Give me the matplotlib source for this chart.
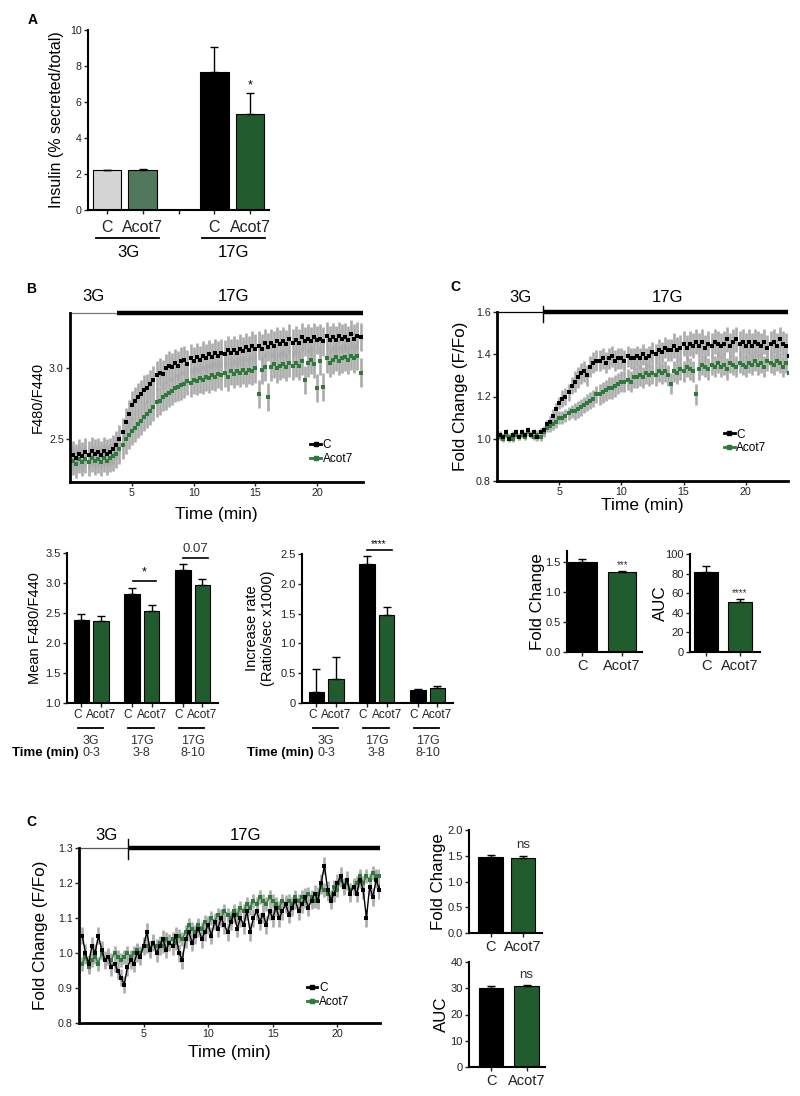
import numpy as np
import matplotlib
matplotlib.use("Agg")  # no display
import matplotlib.pyplot as plt
from matplotlib.lines import Line2D

plt.rcParams['font.family'] = ['Liberation Sans', 'DejaVu Sans']

GREEN = "#215c2f"
LIGHT_GREEN = "#52785b"
TRACE_GREEN = "#2d7a3a"
ERR_GRAY = "#ababab"

# ---- Panel A: insulin secretion ----
A_TICKLABELS = ["C", "Acot7", "", "C", "Acot7"]
A_GROUPS = ["3G", "17G"]
A_VALUES = [2.2, 2.2, 7.65, 5.35]
A_ERR = [0.03, 0.1, 1.4, 1.15]

# ---- Panel B bars ----
BAR_GROUPS = ["3G", "17G", "17G"]
BAR_TIMES = ["0-3", "3-8", "8-10"]
B_MEAN_C = [2.39, 2.81, 3.22]
B_MEAN_C_ERR = [0.10, 0.10, 0.10]
B_MEAN_A = [2.37, 2.54, 2.97]
B_MEAN_A_ERR = [0.08, 0.09, 0.09]
B_RATE_C = [0.18, 2.33, 0.22]
B_RATE_C_ERR = [0.39, 0.14, 0.02]
B_RATE_A = [0.40, 1.48, 0.26]
B_RATE_A_ERR = [0.38, 0.13, 0.02]

# ---- Panel C bars (top) ----
C_FOLD = [1.50, 1.33]
C_FOLD_ERR = [0.04, 0.02]
C_AUC = [82.0, 51.0]
C_AUC_ERR = [6.0, 3.0]

# ---- Panel C bars (bottom) ----
D_FOLD = [1.48, 1.46]
D_FOLD_ERR = [0.04, 0.03]
D_AUC = [30.2, 30.8]
D_AUC_ERR = [0.5, 0.5]

# ---- traces, sampled every 0.25 min ----
TIME = np.arange(0.25, 23.75, 0.25)

B_TRACE_C = [
    2.39, 2.37, 2.40, 2.38, 2.41, 2.39, 2.42, 2.40, 2.41, 2.39, 2.42, 2.40,
    2.41, 2.43, 2.46, 2.50, 2.55, 2.62, 2.68, 2.74, 2.77, 2.80, 2.82, 2.85,
    2.86, 2.89, 2.92, 2.95, 2.97, 2.96, 3.00, 3.02, 3.01, 3.04, 3.02, 3.05,
    3.06, 3.03, 3.07, 3.05, 3.08, 3.06, 3.09, 3.07, 3.10, 3.08, 3.11, 3.09,
    3.11, 3.10, 3.13, 3.11, 3.13, 3.11, 3.14, 3.12, 3.15, 3.13, 3.16, 3.14,
    3.16, 3.14, 3.18, 3.15, 3.18, 3.16, 3.19, 3.17, 3.19, 3.17, 3.21, 3.18,
    3.20, 3.18, 3.22, 3.19, 3.21, 3.19, 3.22, 3.20, 3.21, 3.19, 3.23, 3.20,
    3.22, 3.20, 3.23, 3.21, 3.22, 3.20, 3.24, 3.21, 3.23, 3.22]
B_TRACE_A = [
    2.35, 2.33, 2.36, 2.34, 2.36, 2.34, 2.37, 2.35, 2.36, 2.34, 2.37, 2.35,
    2.37, 2.38, 2.40, 2.43, 2.46, 2.50, 2.53, 2.56, 2.58, 2.61, 2.63, 2.66,
    2.68, 2.70, 2.73, 2.76, 2.77, 2.80, 2.81, 2.83, 2.84, 2.86, 2.87, 2.88,
    2.89, 2.91, 2.90, 2.92, 2.91, 2.93, 2.92, 2.94, 2.93, 2.95, 2.94, 2.96,
    2.95, 2.97, 2.94, 2.98, 2.96, 2.98, 2.97, 2.99, 2.97, 2.99, 2.98, 3.00,
    2.82, 2.99, 3.01, 2.80, 3.01, 3.03, 3.00, 3.02, 3.03, 3.01, 3.04, 3.02,
    3.04, 3.02, 3.05, 2.92, 3.04, 3.06, 3.03, 2.86, 3.05, 2.87, 3.07, 3.04,
    3.06, 3.08, 3.05, 3.07, 3.08, 3.06, 3.09, 3.07, 3.09, 2.97]
# SEM per minute
B_TRACE_C_SEM = [0.10] * 24
B_TRACE_A_SEM = [0.10] * 24

C_TRACE_C = [
    1.02, 1.01, 1.03, 1.00, 1.02, 1.03, 1.01, 1.03, 1.02, 1.04, 1.02, 1.03,
    1.01, 1.03, 1.04, 1.07, 1.08, 1.11, 1.14, 1.17, 1.19, 1.20, 1.22, 1.25,
    1.27, 1.29, 1.31, 1.32, 1.30, 1.34, 1.36, 1.37, 1.37, 1.38, 1.36, 1.38,
    1.39, 1.37, 1.38, 1.38, 1.37, 1.39, 1.38, 1.38, 1.39, 1.38, 1.40, 1.38,
    1.39, 1.41, 1.40, 1.42, 1.41, 1.43, 1.42, 1.42, 1.44, 1.42, 1.43, 1.45,
    1.43, 1.45, 1.44, 1.46, 1.44, 1.46, 1.43, 1.45, 1.44, 1.46, 1.45, 1.44,
    1.45, 1.47, 1.44, 1.46, 1.47, 1.45, 1.46, 1.44, 1.46, 1.44, 1.46, 1.45,
    1.44, 1.46, 1.43, 1.45, 1.46, 1.44, 1.47, 1.45, 1.44, 1.39]
C_TRACE_A = [
    1.01, 1.00, 1.02, 1.01, 1.00, 1.02, 1.01, 1.02, 1.01, 1.03, 1.02, 1.01,
    1.02, 1.01, 1.03, 1.05, 1.06, 1.07, 1.08, 1.10, 1.10, 1.11, 1.12, 1.13,
    1.13, 1.14, 1.15, 1.16, 1.17, 1.18, 1.19, 1.21, 1.21, 1.22, 1.23, 1.24,
    1.24, 1.25, 1.26, 1.27, 1.27, 1.28, 1.27, 1.29, 1.29, 1.30, 1.29, 1.31,
    1.30, 1.31, 1.30, 1.32, 1.31, 1.32, 1.30, 1.26, 1.32, 1.31, 1.33, 1.32,
    1.34, 1.33, 1.32, 1.21, 1.33, 1.35, 1.34, 1.33, 1.35, 1.34, 1.36, 1.34,
    1.35, 1.33, 1.36, 1.35, 1.34, 1.36, 1.35, 1.34, 1.36, 1.35, 1.37, 1.35,
    1.36, 1.34, 1.37, 1.36, 1.35, 1.37, 1.36, 1.34, 1.36, 1.31]
C_TRACE_C_SEM = [0.015, 0.015, 0.015, 0.02, 0.03, 0.04, 0.05, 0.05, 0.05, 0.05,
                 0.05, 0.05, 0.05, 0.05, 0.06, 0.06, 0.06, 0.06, 0.06, 0.06,
                 0.06, 0.06, 0.06, 0.06]
C_TRACE_A_SEM = [0.015, 0.015, 0.015, 0.02, 0.03, 0.03, 0.04, 0.04, 0.05, 0.05,
                 0.05, 0.05, 0.05, 0.05, 0.05, 0.05, 0.05, 0.05, 0.05, 0.05,
                 0.05, 0.05, 0.05, 0.05]

D_TRACE_C = [
    1.05, 1.00, 0.97, 1.02, 1.00, 1.05, 1.01, 0.98, 0.99, 0.96, 0.97, 0.95,
    0.93, 0.91, 0.96, 0.98, 0.97, 1.00, 0.99, 1.02, 1.06, 1.01, 1.03, 1.00,
    1.02, 1.04, 1.01, 1.03, 1.02, 1.05, 1.00, 0.98, 1.04, 1.06, 1.03, 1.05,
    1.07, 1.04, 1.06, 1.08, 1.05, 1.09, 1.07, 1.10, 1.08, 1.06, 1.09, 1.11,
    1.07, 1.10, 1.08, 1.12, 1.06, 1.10, 1.12, 1.09, 1.11, 1.08, 1.12, 1.10,
    1.13, 1.10, 1.12, 1.14, 1.11, 1.13, 1.15, 1.12, 1.14, 1.16, 1.13, 1.15,
    1.17, 1.15, 1.20, 1.25, 1.18, 1.15, 1.17, 1.20, 1.22, 1.19, 1.21, 1.17,
    1.19, 1.17, 1.21, 1.18, 1.10, 1.19, 1.16, 1.21, 1.18, 1.23]
D_TRACE_A = [
    0.97, 0.99, 0.96, 0.98, 0.99, 0.97, 1.00, 0.98, 0.99, 0.98, 1.00, 0.99,
    0.98, 0.99, 1.00, 0.99, 1.00, 1.01, 1.00, 1.02, 1.02, 1.01, 1.03, 1.02,
    1.03, 1.02, 1.04, 1.03, 1.04, 1.03, 1.05, 1.04, 1.06, 1.08, 1.07, 1.06,
    1.08, 1.07, 1.09, 1.08, 1.10, 1.09, 1.11, 1.10, 1.12, 1.11, 1.10, 1.12,
    1.11, 1.13, 1.12, 1.14, 1.13, 1.15, 1.14, 1.16, 1.15, 1.14, 1.16, 1.15,
    1.14, 1.13, 1.15, 1.14, 1.15, 1.14, 1.16, 1.15, 1.16, 1.15, 1.17, 1.16,
    1.15, 1.17, 1.19, 1.18, 1.17, 1.16, 1.19, 1.18, 1.21, 1.19, 1.20, 1.18,
    1.19, 1.20, 1.22, 1.20, 1.22, 1.21, 1.23, 1.22, 1.22, 1.21]
D_TRACE_C_SEM = [0.025] * 24
D_TRACE_A_SEM = [0.02] * 24

W, H = 800, 1096
fig = plt.figure(figsize=(W / 100, H / 100), dpi=100)


def add_axes(l, t, r, b):
    return fig.add_axes([l / W, 1 - b / H, (r - l) / W, (b - t) / H])


def style(ax, lw=1.5, labelsize=7.7):
    for s in ("top", "right"):
        ax.spines[s].set_visible(False)
    for s in ("left", "bottom"):
        ax.spines[s].set_linewidth(lw)
    ax.tick_params(direction="out", length=3, width=1, labelsize=labelsize, pad=1.5, colors="#222")


def draw_bars(ax, pos, vals, errs, colors, width):
    ax.bar(pos, vals, width=width, color=colors, edgecolor="black", linewidth=0.8, zorder=2)
    ax.errorbar(pos, vals, yerr=[np.zeros(len(vals)), errs], fmt="none", ecolor="black",
                elinewidth=1.0, capsize=3, capthick=1.0, zorder=3)


def trace(ax, c, a, c_sem, a_sem, ylim, yticks, fmt, switch, xmax, thin_color, vtick,
          lab_y, lab_x, line=False):
    n = len(TIME)
    ce = np.repeat(c_sem, 4)[:n]
    ae = np.repeat(a_sem, 4)[:n]
    ax.errorbar(TIME, a, yerr=ae, fmt="none", ecolor=ERR_GRAY, elinewidth=1.9, zorder=1)
    ax.errorbar(TIME, c, yerr=ce, fmt="none", ecolor=ERR_GRAY, elinewidth=1.9, zorder=1)
    ls = "-" if line else "none"
    ax.plot(TIME, a, marker="s", ls=ls, lw=1.0, color=TRACE_GREEN, ms=2.7, mew=0, zorder=2)
    ax.plot(TIME, c, marker="s", ls=ls, lw=1.0, color="black", ms=2.7, mew=0, zorder=3)
    ax.set_xlim(0, xmax)
    ax.set_ylim(*ylim)
    ax.set_yticks(yticks)
    ax.set_yticklabels([fmt.format(v) for v in yticks])
    ax.set_xticks([5, 10, 15, 20])
    style(ax, lw=2.0)
    tr = ax.get_xaxis_transform()
    ax.plot([0, switch], [1, 1], transform=tr, color=thin_color, lw=0.9, clip_on=False)
    ax.plot([switch, xmax], [1, 1], transform=tr, color="black", lw=3.2,
            solid_capstyle="butt", clip_on=False)
    if vtick:
        ax.plot([switch, switch], vtick, transform=tr, color="black", lw=1.0, clip_on=False)
    ax.text(lab_x[0], lab_y, "3G", transform=tr, ha="center", va="center", fontsize=12)
    ax.text(lab_x[1], lab_y, "17G", transform=tr, ha="center", va="center", fontsize=12)
    ax.set_xlabel("Time (min)", fontsize=12.5)


def legend(ax, anchor):
    handles = [Line2D([], [], color="black", lw=2, marker="s", ms=2.5),
               Line2D([], [], color=TRACE_GREEN, lw=2, marker="s", ms=2.5)]
    ax.legend(handles, ["C", "Acot7"], loc="upper left", bbox_to_anchor=anchor, frameon=False,
              fontsize=8.5, handlelength=0.9, handletextpad=0.15, labelspacing=0.15,
              borderpad=0, borderaxespad=0)


# ---------------- Panel A ----------------
ax = add_axes(88, 30, 269, 210)
draw_bars(ax, [0, 1, 3, 4], A_VALUES, A_ERR, ["#d4d4d4", LIGHT_GREEN, "black", GREEN], 0.8)
style(ax, lw=1.5)
ax.set_xlim(-0.53, 4.53)
ax.set_ylim(0, 10)
ax.set_yticks([0, 2, 4, 6, 8, 10])
ax.set_xticks(range(5))
ax.set_xticklabels(A_TICKLABELS, fontsize=11.5)
ax.tick_params(axis="x", pad=4)
ax.set_ylabel("Insulin (% secreted/total)", fontsize=11.5)
ax.yaxis.set_label_coords(-0.133, 0.5)
ax.text(4, 6.6, "*", ha="center", va="bottom", fontsize=9)
tr = ax.get_xaxis_transform()
for (x0, x1), xc, lab in zip([(-0.31, 1.45), (2.66, 4.42)], [0.6, 3.55], A_GROUPS):
    ax.plot([x0, x1], [-0.156, -0.156], transform=tr, color="black", lw=1.3, clip_on=False)
    ax.text(xc, -0.235, lab, transform=tr, ha="center", va="center", fontsize=12)

# ---------------- Panel B trace ----------------
ax = add_axes(70, 313, 363, 482)
trace(ax, B_TRACE_C, B_TRACE_A, B_TRACE_C_SEM, B_TRACE_A_SEM, (2.2, 3.39), [2.5, 3.0], "{:.1f}",
      3.8, 23.7, "#777777", None, 1.095, (1.9, 13.2))
ax.set_ylabel("F480/F440", fontsize=10.5)
ax.yaxis.set_label_coords(-0.085, 0.5)
ax.xaxis.set_label_coords(0.5, -0.145)
legend(ax, (0.82, 0.255))

# ---------------- Panel C trace (top) ----------------
ax = add_axes(497, 312, 788, 481)
trace(ax, C_TRACE_C, C_TRACE_A, C_TRACE_C_SEM, C_TRACE_A_SEM, (0.8, 1.6),
      [0.8, 1.0, 1.2, 1.4, 1.6], "{:.1f}", 3.7, 23.4, "black", (0.94, 1.034), 1.083, (1.9, 13.7))
ax.set_ylabel("Fold Change (F/Fo)", fontsize=12.3)
ax.yaxis.set_label_coords(-0.10, 0.5)
ax.xaxis.set_label_coords(0.5, -0.10)
legend(ax, (0.78, 0.31))


# ---------------- Panel B bars ----------------
def grouped(ax, c, ce, a, ae, ylim, yticks, fmt, ylabel, ycoord):
    pos = np.array([0.0, 2.6, 5.2])
    draw_bars(ax, pos, c, ce, "black", 0.8)
    draw_bars(ax, pos + 1, a, ae, GREEN, 0.8)
    style(ax, lw=1.5, labelsize=8)
    ax.set_xlim(-0.74, 7.0)
    ax.set_ylim(*ylim)
    ax.set_yticks(yticks)
    ax.set_yticklabels([fmt(v) for v in yticks])
    ticks = np.sort(np.concatenate([pos, pos + 1]))
    ax.set_xticks(ticks)
    ax.set_xticklabels(["C", "Acot7"] * 3, fontsize=8.5)
    for lbl in ax.get_xticklabels()[0::2]:
        lbl.set_ha("right")
    for lbl in ax.get_xticklabels()[1::2]:
        lbl.set_ha("center")
    ax.set_ylabel(ylabel, fontsize=10.5)
    ax.yaxis.set_label_coords(ycoord, 0.5)
    tr = ax.get_xaxis_transform()
    for p, g, t in zip(pos, BAR_GROUPS, BAR_TIMES):
        xc = p + 0.5
        ax.plot([xc - 0.7, xc + 0.6], [-0.167, -0.167], transform=tr, color="black", lw=1.3,
                clip_on=False)
        ax.text(xc, -0.255, g, transform=tr, ha="center", va="center", fontsize=9, color="#333")
        ax.text(xc, -0.335, t, transform=tr, ha="center", va="center", fontsize=9, color="#333")
    ax.text(pos[0] + 0.5 - 0.65, -0.335, "Time (min)", transform=tr, ha="right", va="center",
            fontsize=9.5, fontweight="bold")
    return ax


ax = add_axes(67, 553, 218, 703)
grouped(ax, B_MEAN_C, B_MEAN_C_ERR, B_MEAN_A, B_MEAN_A_ERR, (1.0, 3.5),
        [1.0, 1.5, 2.0, 2.5, 3.0, 3.5], lambda v: f"{v:.1f}", "Mean F480/F440", -0.166)
ax.plot([2.65, 3.8], [3.03, 3.03], color="black", lw=1.2, clip_on=False)
ax.text(3.2, 3.08, "*", ha="center", va="bottom", fontsize=9)
ax.plot([5.2, 6.5], [3.41, 3.41], color="black", lw=1.2, clip_on=False)
ax.text(5.85, 3.47, "0.07", ha="center", va="bottom", fontsize=9.5, color="#333")

ax = add_axes(302, 554, 453, 703)
grouped(ax, B_RATE_C, B_RATE_C_ERR, B_RATE_A, B_RATE_A_ERR, (0, 2.5),
        [0, 0.5, 1.0, 1.5, 2.0, 2.5], lambda v: "0" if v == 0 else f"{v:.1f}",
        "Increase rate\n(Ratio/sec x1000)", -0.179)
ax.plot([2.6, 3.85], [2.57, 2.57], color="black", lw=1.2, clip_on=False)
ax.text(3.2, 2.58, "****", ha="center", va="bottom", fontsize=7)


# ---------------- small two-bar panels ----------------
def pair(ax, vals, errs, ylim, yticks, fmt, ylabel, ycoord, xlim, width, mark, mark_y, mark_fs):
    draw_bars(ax, [0, 1], vals, errs, ["black", GREEN], width)
    style(ax, lw=1.5, labelsize=8)
    ax.set_xlim(*xlim)
    ax.set_ylim(*ylim)
    ax.set_yticks(yticks)
    ax.set_yticklabels([fmt(v) for v in yticks])
    ax.set_xticks([0, 1])
    ax.set_xticklabels(["C", "Acot7"], fontsize=10.5)
    ax.tick_params(axis="x", length=3, pad=2)
    ax.set_ylabel(ylabel, fontsize=12.2)
    ax.yaxis.set_label_coords(ycoord, 0.5)
    ax.text(1, mark_y, mark, ha="center", va="bottom", fontsize=mark_fs, color="#333")


ax = add_axes(567, 551, 642, 652)
pair(ax, C_FOLD, C_FOLD_ERR, (0, 1.68), [0.0, 0.5, 1.0, 1.5], lambda v: f"{v:.1f}",
     "Fold Change", -0.29, (-0.39, 1.5), 0.72, "***", 1.37, 7)
ax = add_axes(690, 554, 760, 652)
pair(ax, C_AUC, C_AUC_ERR, (0, 100), [0, 20, 40, 60, 80, 100], lambda v: f"{v:.0f}",
     "AUC", -0.31, (-0.48, 1.61), 0.72, "****", 55, 7)

# ---------------- Panel C trace (bottom) ----------------
ax = add_axes(79, 848, 380, 1023)
trace(ax, D_TRACE_C, D_TRACE_A, D_TRACE_C_SEM, D_TRACE_A_SEM, (0.8, 1.3),
      [0.8, 0.9, 1.0, 1.1, 1.2, 1.3], "{:.1f}", 3.8, 23.3, "#555555", (0.937, 1.05), 1.074,
      (2.1, 12.9), line=True)
ax.set_ylabel("Fold Change (F/Fo)", fontsize=12.3)
ax.yaxis.set_label_coords(-0.103, 0.5)
ax.xaxis.set_label_coords(0.5, -0.126)
legend(ax, (0.757, 0.235))

ax = add_axes(469, 830, 542, 933)
pair(ax, D_FOLD, D_FOLD_ERR, (0, 2.0), [0.0, 0.5, 1.0, 1.5, 2.0], lambda v: f"{v:.1f}",
     "Fold Change", -0.31, (-0.66, 1.58), 0.75, "ns", 1.6, 9.5)
ax = add_axes(469, 962, 545, 1067)
pair(ax, D_AUC, D_AUC_ERR, (0, 40), [0, 10, 20, 30, 40], lambda v: f"{v:.0f}",
     "AUC", -0.27, (-0.62, 1.52), 0.7, "ns", 32.6, 9.5)

# panel letters
for x, y, s in [(33, 20, "A"), (31, 289, "B"), (455, 287, "C"), (31, 822, "C")]:
    fig.text(x / W, 1 - y / H, s, ha="center", va="center", fontsize=10, fontweight="bold")

fig.savefig("out.png", dpi=100)
